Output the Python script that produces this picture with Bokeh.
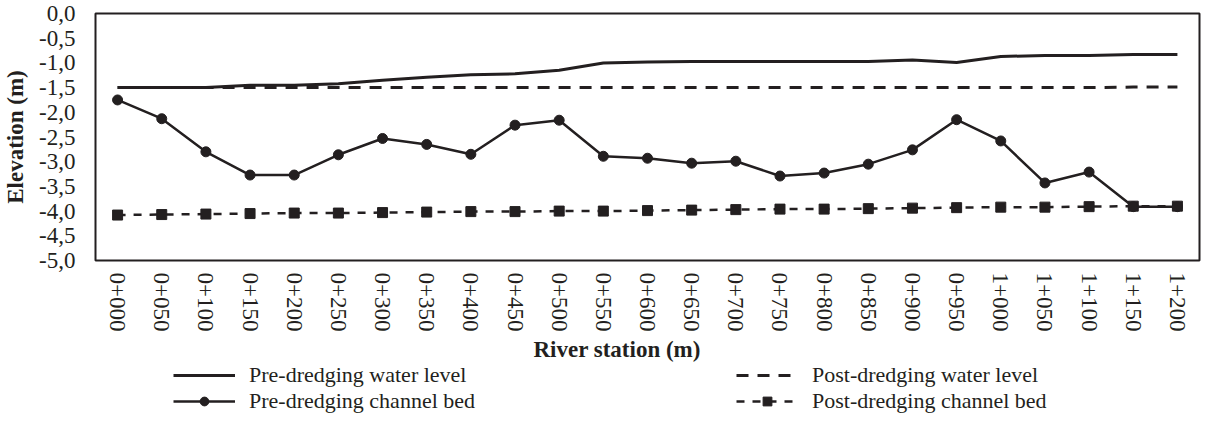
from bokeh.plotting import figure
from bokeh.layouts import column
from bokeh.models import (Range1d, FactorRange, FixedTicker, CustomJSTickFormatter,
                          Legend, LegendItem, ColumnDataSource)
from bokeh.embed import file_html
from bokeh.resources import INLINE

stations = ["0+000", "0+050", "0+100", "0+150", "0+200", "0+250", "0+300", "0+350",
            "0+400", "0+450", "0+500", "0+550", "0+600", "0+650", "0+700", "0+750",
            "0+800", "0+850", "0+900", "0+950", "1+000", "1+050", "1+100", "1+150", "1+200"]

pre_water = [-1.50, -1.50, -1.50, -1.45, -1.45, -1.42, -1.35, -1.29, -1.24, -1.22, -1.15,
             -1.00, -0.98, -0.97, -0.97, -0.97, -0.97, -0.97, -0.94, -0.99, -0.87, -0.85,
             -0.85, -0.83, -0.83]
post_water = [-1.50, -1.50, -1.50, -1.50, -1.50, -1.50, -1.50, -1.50, -1.50, -1.50, -1.50,
              -1.50, -1.50, -1.50, -1.50, -1.50, -1.50, -1.50, -1.50, -1.50, -1.50, -1.50,
              -1.50, -1.49, -1.49]
pre_bed = [-1.75, -2.13, -2.80, -3.27, -3.27, -2.86, -2.53, -2.65, -2.85, -2.26, -2.16,
           -2.89, -2.93, -3.03, -2.99, -3.29, -3.23, -3.05, -2.76, -2.15, -2.58, -3.43,
           -3.21, -3.91, -3.91]
post_bed = [-4.08, -4.07, -4.06, -4.05, -4.04, -4.04, -4.03, -4.02, -4.01, -4.01, -4.00,
            -4.00, -3.99, -3.98, -3.97, -3.96, -3.96, -3.95, -3.94, -3.93, -3.92, -3.92,
            -3.91, -3.90, -3.90]

y_ticks = [0.0, -0.5, -1.0, -1.5, -2.0, -2.5, -3.0, -3.5, -4.0, -4.5, -5.0]

series_names = ["Pre-dredging water level", "Pre-dredging channel bed",
                "Post-dredging water level", "Post-dredging channel bed"]
x_title = "River station (m)"
y_title = "Elevation (m)"

INK = "#231f20"
FONT = "Liberation Serif"

src = ColumnDataSource(dict(x=stations, pw=pre_water, qw=post_water, pb=pre_bed, qb=post_bed))
x_range = FactorRange(factors=stations)


def draw_series(fig):
    r_pw = fig.line("x", "pw", source=src, line_color=INK, line_width=3)
    r_qw = fig.line("x", "qw", source=src, line_color=INK, line_width=3, line_dash="12 9")
    r_pb = fig.line("x", "pb", source=src, line_color=INK, line_width=2.5)
    r_pbm = fig.scatter("x", "pb", source=src, marker="circle", size=10,
                        fill_color=INK, line_color=INK)
    r_qb = fig.line("x", "qb", source=src, line_color=INK, line_width=2.5, line_dash="8 8")
    r_qbm = fig.scatter("x", "qb", source=src, marker="square", size=10,
                        fill_color=INK, line_color=INK)
    return r_pw, r_qw, r_pb, r_pbm, r_qb, r_qbm


# ---------------- main chart ----------------
p = figure(width=1201, height=334, output_backend="svg", toolbar_location=None,
           x_range=x_range, y_range=Range1d(-5, 0),
           min_border_left=92, min_border_right=2, min_border_top=13, min_border_bottom=73)

p.grid.visible = False
p.outline_line_color = INK
p.outline_line_width = 2
p.background_fill_color = "white"
p.border_fill_color = "white"

for ax in (p.xaxis[0], p.yaxis[0]):
    ax.axis_line_color = None
    ax.major_tick_line_color = None
    ax.minor_tick_line_color = None
    ax.major_tick_out = 0
    ax.major_tick_in = 0
    ax.major_label_text_font = FONT
    ax.major_label_text_font_size = "23px"
    ax.major_label_text_color = INK
    ax.axis_label_text_font = FONT
    ax.axis_label_text_font_size = "23px"
    ax.axis_label_text_font_style = "bold"
    ax.axis_label_text_color = INK

p.yaxis.ticker = FixedTicker(ticks=y_ticks)
p.yaxis.formatter = CustomJSTickFormatter(code="return tick.toFixed(1).replace('.', ',');")
p.yaxis.major_label_standoff = 20
p.yaxis.axis_label = y_title
p.yaxis.axis_label_standoff = 8

p.xaxis.major_label_orientation = "vertical"
p.xaxis.major_label_standoff = 12

draw_series(p)

# ---------------- x title + legend strip (same series, own canvas) ----------------
q = figure(width=1201, height=80, output_backend="svg", toolbar_location=None,
           x_range=x_range, y_range=Range1d(100, 101),
           x_axis_location=None, y_axis_location=None, title=x_title,
           min_border_left=0, min_border_right=0, min_border_top=27, min_border_bottom=0)
q.grid.visible = False
q.outline_line_color = None
q.background_fill_color = "white"
q.border_fill_color = "white"
q.title.align = "left"
q.title.offset = 438
q.title.standoff = 0
q.title.text_font = FONT
q.title.text_font_size = "23px"
q.title.text_font_style = "bold"
q.title.text_color = INK

l_pw, l_qw, l_pb, l_pbm, l_qb, l_qbm = draw_series(q)

legend = Legend(items=[
    LegendItem(label=series_names[0], renderers=[l_pw]),
    LegendItem(label=series_names[1], renderers=[l_pb, l_pbm]),
    LegendItem(label=series_names[2], renderers=[l_qw]),
    LegendItem(label=series_names[3], renderers=[l_qb, l_qbm]),
], ncols=2, location=(78, 0), padding=0, margin=0, spacing=0,
   glyph_width=62, glyph_height=22, label_height=22, label_width=487, label_standoff=14,
   label_text_font=FONT, label_text_font_size="22px", label_text_color=INK,
   border_line_color=None, background_fill_alpha=0)
q.add_layout(legend, "center")

layout = column(p, q, spacing=0)
open("out.html", "w").write(file_html(layout, INLINE))
